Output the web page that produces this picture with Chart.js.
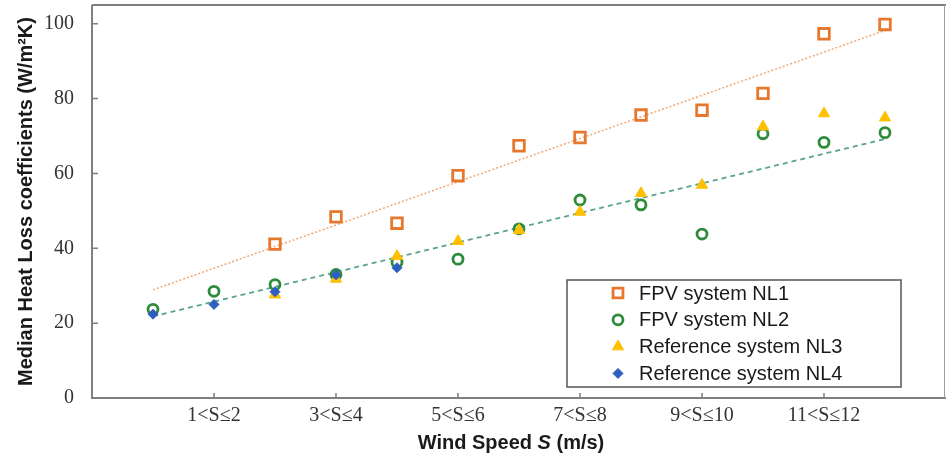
<!DOCTYPE html>
<html><head><meta charset="utf-8">
<script src="https://cdn.jsdelivr.net/npm/chart.js@4.4.0/dist/chart.umd.min.js"></script>
<style>html,body{margin:0;padding:0;background:#fff;}#wrap{width:946px;height:457px;position:relative;}</style>
</head><body><div id="wrap"><canvas id="c" width="946" height="457"></canvas></div>
<script>
// ---- data ----
const categories = ["0<S≤1","1<S≤2","2<S≤3","3<S≤4","4<S≤5","5<S≤6","6<S≤7","7<S≤8","8<S≤9","9<S≤10","10<S≤11","11<S≤12","12<S≤13"];
const tickCategories = ["1<S≤2","3<S≤4","5<S≤6","7<S≤8","9<S≤10","11<S≤12"];
const yTicks = [0,20,40,60,80,100];
const seriesNames = ["FPV system NL1","FPV system NL2","Reference system NL3","Reference system NL4"];
const nl1 = [null,null,41.1,48.4,46.7,59.4,67.4,69.6,75.6,76.9,81.4,97.3,99.8];
const nl2 = [23.7,28.5,30.3,33.0,36.3,37.1,45.2,52.9,51.6,43.8,70.6,68.3,70.9];
const nl3 = [null,null,27.6,31.8,37.9,41.9,44.8,49.7,54.7,56.9,72.5,76.0,74.9];
const nl4 = [22.4,25.0,28.4,32.9,34.8,null,null,null,null,null,null,null,null];
const trendNL1 = [28.9,98.2];   // trendline at first and last category
const trendNL2 = [21.8,69.2];

const toPts = arr => arr.map((v,i)=>v===null?null:{x:i,y:v}).filter(p=>p);
const endPts = arr => [{x:0,y:arr[0]},{x:categories.length-1,y:arr[1]}];

const C_OR = '#E8772E', C_GR = '#2E8B3A', C_YE = '#FFC000', C_BL = '#2E5FC0';

const framePlugin = {
  id:'frame',
  afterDatasetsDraw(chart){
    const {ctx, chartArea:a, scales} = chart;
    ctx.save();
    ctx.strokeStyle = '#7f7f7f'; ctx.lineWidth = 2;
    ctx.beginPath();
    ctx.moveTo(a.left, a.top); ctx.lineTo(a.left, a.bottom); ctx.lineTo(a.right, a.bottom);
    ctx.moveTo(a.left, a.top); ctx.lineTo(a.right, a.top);
    ctx.stroke();
    ctx.lineWidth = 1; ctx.strokeStyle = '#a0a0a0';
    ctx.beginPath(); ctx.moveTo(a.right-1.5, a.top); ctx.lineTo(a.right-1.5, a.bottom); ctx.stroke();
    ctx.strokeStyle = '#7f7f7f'; ctx.lineWidth = 1.5;
    ctx.beginPath();
    scales.y.ticks.forEach(t=>{const y=scales.y.getPixelForValue(t.value); ctx.moveTo(a.left, y); ctx.lineTo(a.left+6, y);});
    scales.x.ticks.forEach(t=>{const x=scales.x.getPixelForValue(t.value); ctx.moveTo(x, a.bottom); ctx.lineTo(x, a.bottom-5);});
    ctx.stroke();
    // legend
    const lx=567, ly=280, lw=334, lh=107;
    ctx.fillStyle='#fff'; ctx.fillRect(lx,ly,lw,lh);
    ctx.strokeStyle='#555'; ctx.lineWidth=1.5; ctx.strokeRect(lx,ly,lw,lh);
    ctx.font = '20px "Liberation Sans", Arial, sans-serif';
    ctx.textBaseline='middle'; ctx.textAlign='left';
    const ds = chart.data.datasets.filter(d=>!d.isTrend).sort((p,q)=>p.legendIdx-q.legendIdx);
    ds.forEach((d,i)=>{
      const y = 293 + i*26.8;
      ctx.save();
      ctx.strokeStyle = d.borderColor; ctx.fillStyle = d.backgroundColor; ctx.lineWidth = d.borderWidth;
      Chart.helpers.drawPoint(ctx, {pointStyle:d.pointStyle, radius:d.legendRadius, borderWidth:d.borderWidth, rotation:0}, 618, y);
      ctx.restore();
      ctx.fillStyle='#1a1a1a';
      ctx.fillText(d.label, 639, y+1);
    });
    // x-axis title with italic S
    const parts = [['bold','Wind Speed '],['italic bold','S'],['bold',' (m/s)']];
    const fam = '20px "Liberation Sans", Arial, sans-serif';
    let total=0; parts.forEach(p=>{ctx.font=p[0]+' '+fam; total+=ctx.measureText(p[1]).width;});
    let x = 511 - total/2;
    ctx.fillStyle='#1a1a1a'; ctx.textBaseline='middle';
    parts.forEach(p=>{ctx.font=p[0]+' '+fam; ctx.fillText(p[1], x, 443); x+=ctx.measureText(p[1]).width;});
    ctx.restore();
  }
};

new Chart(document.getElementById('c'), {
  type:'scatter',
  data:{datasets:[
    {label:seriesNames[3], legendIdx:3, data:toPts(nl4), pointStyle:'rectRot', pointRadius:5, legendRadius:5, borderWidth:1, borderColor:C_BL, backgroundColor:C_BL, order:1},
    {label:seriesNames[2], legendIdx:2, data:toPts(nl3), pointStyle:'triangle', pointRadius:6.5, legendRadius:6.5, borderWidth:1, borderColor:C_YE, backgroundColor:C_YE, order:2},
    {label:seriesNames[1], legendIdx:1, data:toPts(nl2), pointStyle:'circle', pointRadius:5, legendRadius:5, borderWidth:2.8, borderColor:C_GR, backgroundColor:'rgba(0,0,0,0)', order:3},
    {label:seriesNames[0], legendIdx:0, data:toPts(nl1), pointStyle:'rect', pointRadius:7.5, legendRadius:7, borderWidth:2.8, borderColor:C_OR, backgroundColor:'rgba(0,0,0,0)', order:4},
    {label:'trend NL1', isTrend:true, type:'line', data:endPts(trendNL1), showLine:true, borderColor:'#F2A772', borderWidth:1.5, borderDash:[2,2], pointRadius:0, order:5},
    {label:'trend NL2', isTrend:true, type:'line', data:endPts(trendNL2), showLine:true, borderColor:'#5AA38C', borderWidth:1.8, borderDash:[5,4], pointRadius:0, order:6}
  ]},
  options:{
    responsive:false, animation:false, devicePixelRatio:1,
    layout:{autoPadding:false, padding:{top:5,right:0,left:0,bottom:0}},
    plugins:{legend:{display:false}, tooltip:{enabled:false}},
    scales:{
      x:{type:'linear', min:-1, max:13,
        grid:{display:false, drawTicks:false}, border:{display:false},
        afterBuildTicks:s=>{s.ticks = tickCategories.map(l=>({value:categories.indexOf(l)}));},
        afterFit:s=>{s.height=59; s.paddingLeft=0; s.paddingRight=0;},
        ticks:{padding:6, maxRotation:0, autoSkip:false, color:'#333', font:{family:'"Liberation Serif", "Times New Roman", serif', size:20}, callback:v=>categories[v]}
      },
      y:{type:'linear', min:0, max:105,
        grid:{display:false, drawTicks:false}, border:{display:false},
        afterBuildTicks:s=>{s.ticks = yTicks.map(v=>({value:v}));},
        afterFit:s=>{s.width=92; s.paddingTop=0; s.paddingBottom=0;},
        ticks:{padding:18, color:'#333', font:{family:'"Liberation Serif", "Times New Roman", serif', size:20}},
        title:{display:true, text:'Median Heat Loss coefficients (W/m²K)', color:'#1a1a1a', padding:{top:14,bottom:0}, font:{family:'"Liberation Sans", Arial, sans-serif', size:20, weight:'bold'}}
      }
    }
  },
  plugins:[framePlugin]
});
</script></body></html>
